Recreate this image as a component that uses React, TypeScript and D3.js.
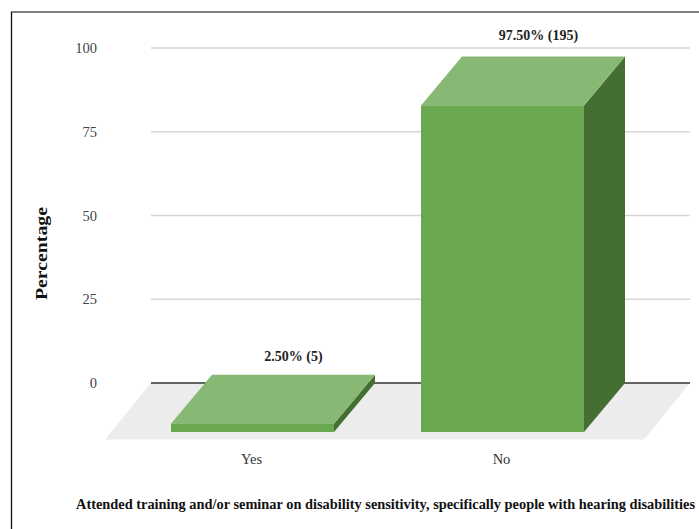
import React from "react";
import * as d3 from "d3";

const categories = ["Yes", "No"];
const percentages = [2.5, 97.5];
const counts = [5, 195];
const yTicks = [0, 25, 50, 75, 100];
const axisTitleY = "Percentage";
const axisTitleX =
  "Attended training and/or seminar on disability sensitivity, specifically people with hearing disabilities";

const WIDTH = 699;
const HEIGHT = 529;
const SERIF = "'Liberation Serif', serif";

// Offset from the back wall of the 3D scene to its front edge
const DEPTH_X = 41;
const DEPTH_Y = 49;

const FACE_FRONT = "#69a84f";
const FACE_TOP = "#87b974";
const FACE_SIDE = "#456f32";

// Value labels sit above the top face, nudged per bar
const LABEL_DX: Record<string, number> = { Yes: 41, No: 36 };
const LABEL_DY: Record<string, number> = { Yes: -14, No: -16 };

const y = d3.scaleLinear().domain([0, 100]).range([383, 48]);
const x = d3
  .scaleBand<string>()
  .domain(categories)
  .range([127.5, 627.5])
  .paddingInner(0.348)
  .paddingOuter(0.174);

const polygon = (pts: [number, number][]) => (d3.line()(pts) ?? "") + "Z";

export default function App() {
  const baseBack = y(0);
  const wallLeft = 151;
  const wallRight = 690;
  const floorFront = baseBack + 56.5;
  const floorShift = 46;

  return (
    <svg
      width={WIDTH}
      height={HEIGHT}
      viewBox={`0 0 ${WIDTH} ${HEIGHT}`}
      style={{ position: "fixed", left: 0, top: 0, background: "#fff" }}
      fontFamily={SERIF}
    >
      <line x1={11} x2={699} y1={12} y2={12} stroke="#555" strokeWidth={1.3} />
      <line x1={11.5} x2={11.5} y1={12} y2={529} stroke="#111" strokeWidth={1.3} />

      <path
        d={polygon([
          [wallLeft, baseBack],
          [wallRight, baseBack],
          [wallRight - floorShift, floorFront],
          [wallLeft - floorShift, floorFront],
        ])}
        fill="#ececec"
      />

      {yTicks.map((t) => (
        <g key={t}>
          <line
            x1={wallLeft}
            x2={wallRight}
            y1={y(t)}
            y2={y(t)}
            stroke={t === 0 ? "#333" : "#d6d6d6"}
            strokeWidth={t === 0 ? 1.3 : 1.4}
          />
          <text
            x={97}
            y={y(t) + 5}
            textAnchor="end"
            fontSize={14.5}
            fill="#444"
          >
            {t}
          </text>
        </g>
      ))}

      {categories.map((c, i) => {
        const v = percentages[i];
        const left = x(c) as number;
        const right = left + x.bandwidth();
        const topFront = y(v) + DEPTH_Y;
        const baseFront = baseBack + DEPTH_Y;
        const center = left + x.bandwidth() / 2;
        return (
          <g key={c}>
            <path
              d={polygon([
                [right, topFront],
                [right + DEPTH_X, y(v)],
                [right + DEPTH_X, baseBack],
                [right, baseFront],
              ])}
              fill={FACE_SIDE}
            />
            <path
              d={polygon([
                [left, topFront],
                [left + DEPTH_X, y(v)],
                [right + DEPTH_X, y(v)],
                [right, topFront],
              ])}
              fill={FACE_TOP}
            />
            <rect
              x={left}
              y={topFront}
              width={x.bandwidth()}
              height={baseFront - topFront}
              fill={FACE_FRONT}
            />
            <text
              x={center + LABEL_DX[c]}
              y={y(v) + LABEL_DY[c]}
              textAnchor="middle"
              fontSize={14}
              fontWeight="bold"
              fill="#222"
            >
              {`${v.toFixed(2)}% (${counts[i]})`}
            </text>
            <text
              x={center - 1}
              y={463.5}
              textAnchor="middle"
              fontSize={14.5}
              fill="#333"
            >
              {c}
            </text>
          </g>
        );
      })}

      <text
        transform="translate(47,253.5) rotate(-90)"
        textAnchor="middle"
        fontSize={16.5}
        fontWeight="bold"
        fill="#111"
        textLength={93}
        lengthAdjust="spacingAndGlyphs"
      >
        {axisTitleY}
      </text>
      <text
        x={385.5}
        y={509}
        textAnchor="middle"
        fontSize={14.4}
        fontWeight="bold"
        fill="#111"
        textLength={619}
        lengthAdjust="spacingAndGlyphs"
      >
        {axisTitleX}
      </text>
    </svg>
  );
}
